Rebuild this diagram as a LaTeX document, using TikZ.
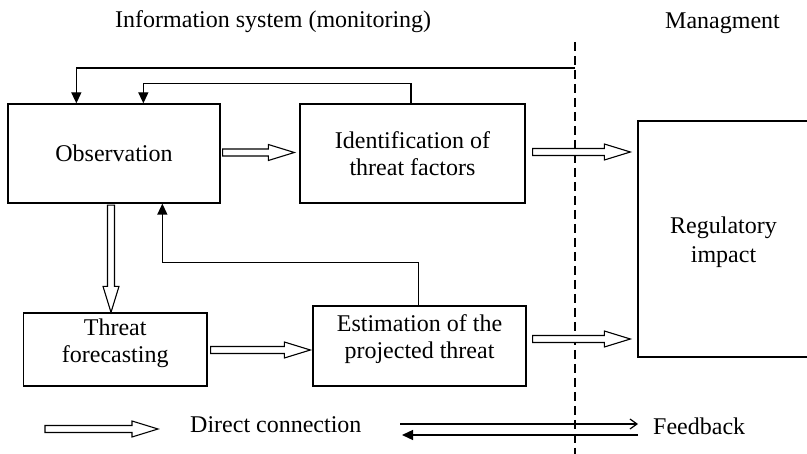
\documentclass[tikz,border=0pt]{standalone}
\usepackage{fontspec}
\setmainfont{Liberation Serif}
\usetikzlibrary{calc,arrows.meta}
\tikzset{
  box/.style={draw, line width=1.3pt, inner sep=0pt, align=center, font=\fontsize{24}{27.3}\selectfont},
  lbl/.style={inner sep=0pt, font=\fontsize{24}{29}\selectfont},
  hol/.style={draw, line width=1.1pt, fill=white, line join=miter},
  fb/.style={line width=1.3pt, -{Triangle[width=10pt,length=11pt]}},
  divider/.style={line width=1.3pt, dash pattern=on 9pt off 5pt},
}
\newcommand\hollowarrow[2]{%
  \coordinate (ha-e) at ($(#2)!26pt!(#1)$);
  \path[hol] ($(#1)!3.5pt!90:(#2)$) -- ($(ha-e)!3.5pt!-90:(#1)$) -- ($(ha-e)!8pt!-90:(#1)$) -- (#2) -- ($(ha-e)!8pt!90:(#1)$) -- ($(ha-e)!3.5pt!90:(#1)$) -- ($(#1)!3.5pt!-90:(#2)$) -- cycle;}
\newcommand\dn[1]{\rule[-#1pt]{0pt}{#1pt}}
\newcommand\up[1]{\rule{0pt}{#1pt}}
\begin{document}
\begin{tikzpicture}[x=1pt,y=-1pt]
\useasboundingbox (0,0) rectangle (807,454);
% titles
\node[lbl, anchor=base west] (t1) at (115,28) {Information system (monitoring)};
\node[lbl, anchor=base west] (t2) at (665,29) {Managment};
% boxes
\node[box, minimum width=212pt, minimum height=99pt] (obs) at (114,153.5) {Observation};
\node[box, minimum width=225pt, minimum height=99pt] (ident) at (412.5,153.5) {Identification of\\threat factors};
\node[box, minimum width=183.5pt, minimum height=73pt] (fore) at (115.25,349.5) {Threat\\forecasting\dn{17.8}};
\node[box, minimum width=213pt, minimum height=80pt] (est) at (419.5,346) {Estimation of the\\projected threat\dn{18.8}};
\node[box, font=\fontsize{24}{29.4}\selectfont, minimum width=171pt, minimum height=236pt] (reg) at (723.5,239) {\up{23.2}Regulatory\\impact};
% divider
\coordinate (dtop) at (575,42);
\coordinate (dbot) at (575,454);
\draw[divider] (dtop) -- (dbot);
% feedback connectors
\coordinate (fb1s) at (575,68);
\draw[fb] (fb1s) -| ([xshift=69pt]obs.north west);
\draw[fb] ([xshift=-1.5pt]ident.north) -- ++(0,-20) -| ([xshift=136pt]obs.north west);
\draw[fb] ([xshift=-1pt]est.north) -- ++(0,-43) -| ([xshift=155pt]obs.south west);
% hollow arrows (direct connections)
\coordinate (a1s) at ([xshift=2pt,yshift=1pt]obs.east);
\coordinate (a1e) at ([xshift=-5pt,yshift=1pt]ident.west);
\hollowarrow{a1s}{a1e}
\coordinate (a2s) at ([xshift=7pt,yshift=1.5pt]ident.east);
\coordinate (a2e) at (reg.west |- a2s);
\coordinate (a2t) at ([xshift=-7pt]a2e);
\hollowarrow{a2s}{a2t}
\coordinate (a3s) at ([xshift=-3pt,yshift=-1.5pt]obs.south);
\coordinate (a3e) at (a3s |- fore.north);
\hollowarrow{a3s}{a3e}
\coordinate (a4s) at ([xshift=3pt,yshift=-0.5pt]fore.east);
\coordinate (a4e) at ([xshift=-2pt]est.west |- a4s);
\hollowarrow{a4s}{a4e}
\coordinate (a5s) at ([xshift=6pt,yshift=7pt]est.east);
\coordinate (a5e) at ([xshift=-7pt]reg.west |- a5s);
\hollowarrow{a5s}{a5e}
% legend
\coordinate (l1s) at (45,429);
\coordinate (l1e) at (158,429);
\hollowarrow{l1s}{l1e}
\node[lbl, anchor=base west] (ldc) at (190,433) {Direct connection};
\coordinate (l2s) at (400,424);
\coordinate (l2e) at (638,424);
\draw[line width=1.2pt, -{Straight Barb[width=10pt,length=7pt,line width=1.2pt]}] (l2s) -- (l2e);
\coordinate (l3s) at (638,435);
\coordinate (l3e) at (402,435);
\draw[fb] (l3s) -- (l3e);
\node[lbl, anchor=base west] (lfb) at (653,435) {Feedback};
\end{tikzpicture}
\end{document}
